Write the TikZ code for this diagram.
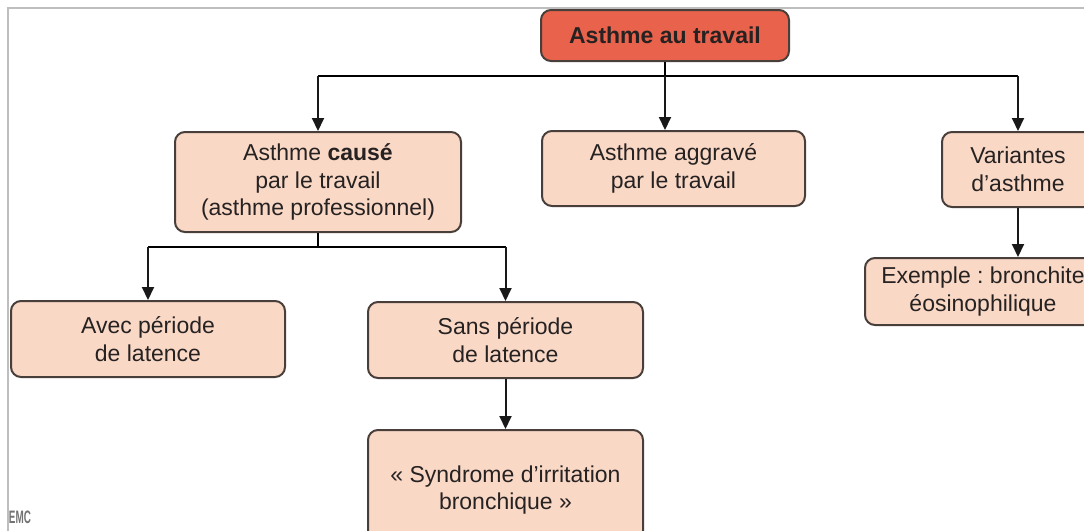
\documentclass[tikz,border=0pt]{standalone}
\usepackage{fontspec}
\setmainfont{Liberation Sans}
\frenchspacing
\usetikzlibrary{arrows.meta}
\definecolor{boxfill}{RGB}{250,216,198}
\definecolor{topfill}{RGB}{232,98,76}
\definecolor{boxline}{RGB}{72,62,58}
\definecolor{framegray}{RGB}{190,190,190}
\definecolor{txt}{RGB}{38,34,34}
\def\barA{76}
\def\barB{247}

\tikzset{
  box/.style={draw=boxline, line width=1pt, rounded corners=5pt, fill=boxfill,
    align=center, inner sep=0pt, text=txt, font=\fontsize{11.5}{13.8}\selectfont},
  link/.style={line width=1pt, draw=black!90, -{Triangle[length=6.5pt,width=6pt]}},
}

\begin{document}
\begin{tikzpicture}[x=.5pt,y=-.5pt]
  \useasboundingbox (0,0) rectangle (1084,531);
  \clip (0,0) rectangle (1084,531);
  \draw[framegray, line width=1pt] (8,531) -- (8,8) -- (1084,8);

  \node[box, fill=topfill, minimum width=124pt, minimum height=25.5pt] (top) at (665,35.5) {\textbf{Asthme au travail}};
  \node[box, minimum width=143pt, minimum height=50pt] (cause) at (318,182) {Asthme \textbf{causé}\\par le travail\\(asthme professionnel)};
  \node[box, minimum width=131.5pt, minimum height=37.5pt] (aggr) at (673.5,168.5) {Asthme aggravé\\par le travail};
  \node[box, minimum width=76pt, minimum height=37.5pt] (var) at (1018,169.5) {Variantes\\d’asthme};
  \node[box, minimum width=118pt, minimum height=33.5pt] (ex) at (983,291.5) {Exemple : bronchite\\éosinophilique};
  \node[box, minimum width=137pt, minimum height=38pt] (avec) at (148,339) {Avec période\\de latence};
  \node[box, minimum width=137.5pt, minimum height=38pt] (sans) at (505.5,340) {Sans période\\de latence};
  \node[box, minimum width=137.5pt, minimum height=60pt] (synd) at (505.5,490) {« Syndrome d’irritation\\bronchique »};
  \node[text=black!55, font=\fontsize{9}{9}\selectfont\bfseries, xscale=.55, inner sep=0pt] (emc) at (20,517) {EMC};

  % first level
  \coordinate (hubA) at (665,\barA);
  \draw[line width=1pt] (top.south) -- (hubA);
  \draw[line width=1pt] (cause.north |- hubA) -- (var.north |- hubA);
  \foreach \n in {cause,var}
    \draw[link] (\n.north |- hubA) -- (\n.north);
  \draw[link] (hubA) -- (hubA |- aggr.north);

  % second level
  \coordinate (hubB) at (318,\barB);
  \draw[line width=1pt] (cause.south) -- (hubB);
  \draw[line width=1pt] (avec.north |- hubB) -- (sans.north |- hubB);
  \foreach \n in {avec,sans}
    \draw[link] (\n.north |- hubB) -- (\n.north);
  \draw[link] (sans) -- (synd);
  \draw[link] (var.south) -- (var.south |- ex.north);
\end{tikzpicture}
\end{document}
